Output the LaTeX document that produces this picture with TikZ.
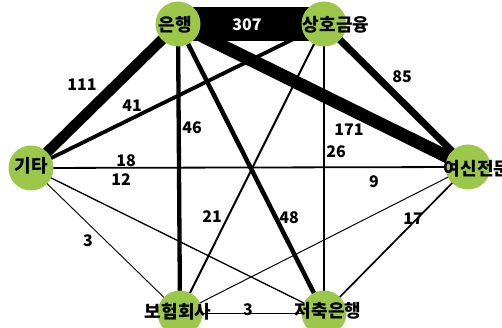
\documentclass[tikz,border=0pt]{standalone}
\usepackage{fontspec}
\newfontfamily\kr{Noto Sans CJK KR}
\usetikzlibrary{backgrounds}
\definecolor{instgreen}{RGB}{155,200,75}

\tikzset{
  inst/.style={circle, fill=instgreen, minimum size=45pt, inner sep=0pt},
  instname/.style={font=\kr\bfseries\fontsize{18}{18}\selectfont, inner sep=0pt},
  amount/.style={font=\kr\bfseries\fontsize{16}{16}\selectfont, inner sep=0pt},
  flow/.style={line width=#1pt}
}

\begin{document}
\begin{tikzpicture}[x=1pt, y=-1pt]
  \useasboundingbox (0,0) rectangle (502,328);

  % institutions
  \node[inst] (bank) at (178,24) {};
  \node[inst] (coop) at (324,24) {};
  \node[inst] (etc) at (31,168) {};
  \node[inst] (card) at (468,167) {};
  \node[inst] (ins) at (180,313) {};
  \node[inst] (sav) at (324,313) {};

  \node[instname] (bank-t) at (175,25) {은행};
  \node[instname] (coop-t) at (336,25) {상호금융};
  \node[instname] (etc-t) at (31,166) {기타};
  \node[instname] (card-t) at (477,169) {여신전문};
  \node[instname] (ins-t) at (178,312) {보험회사};
  \node[instname] (sav-t) at (328,311) {저축은행};

  % links, width by amount
  \begin{scope}[on background layer]
    \draw[flow=34] (bank.center) -- (coop.center);
    \draw[flow=10.5] (bank.center) -- (etc.center);
    \draw[flow=13] (bank.center) -- (card.center);
    \draw[flow=4.3] (bank.center) -- (ins.center);
    \draw[flow=4.5] (bank.center) -- (sav.center);
    \draw[flow=7] (coop.center) -- (card.center);
    \draw[flow=3.8] (coop.center) -- (etc.center);
    \draw[flow=2] (coop.center) -- (ins.center);
    \draw[flow=2.5] (coop.center) -- (sav.center);
    \draw[flow=1.8] (etc.center) -- (card.center);
    \draw[flow=1.3] (etc.center) -- (sav.center);
    \draw[flow=0.9] (etc.center) -- (ins.center);
    \draw[flow=1] (card.center) -- (ins.center);
    \draw[flow=1.7] (card.center) -- (sav.center);
    \draw[flow=0.9] (ins.center) -- (sav.center);
  \end{scope}

  % amounts
  \node[amount, white] (a-bank-coop) at (247,25) {307};
  \node[amount] (a-bank-etc) at (82,85) {111};
  \node[amount] (a-bank-card) at (349,130) {171};
  \node[amount] (a-bank-ins) at (192,128) {46};
  \node[amount] (a-bank-sav) at (289,218) {48};
  \node[amount] (a-coop-card) at (402,77) {85};
  \node[amount] (a-coop-etc) at (132,106) {41};
  \node[amount] (a-coop-ins) at (212,217) {21};
  \node[amount] (a-coop-sav) at (336,152) {26};
  \node[amount] (a-etc-card) at (126,161) {18};
  \node[amount] (a-etc-sav) at (121,180) {12};
  \node[amount] (a-etc-ins) at (88,241) {3};
  \node[amount] (a-card-ins) at (374,182) {9};
  \node[amount] (a-card-sav) at (413,219) {17};
  \node[amount] (a-ins-sav) at (248,310) {3};
\end{tikzpicture}
\end{document}
